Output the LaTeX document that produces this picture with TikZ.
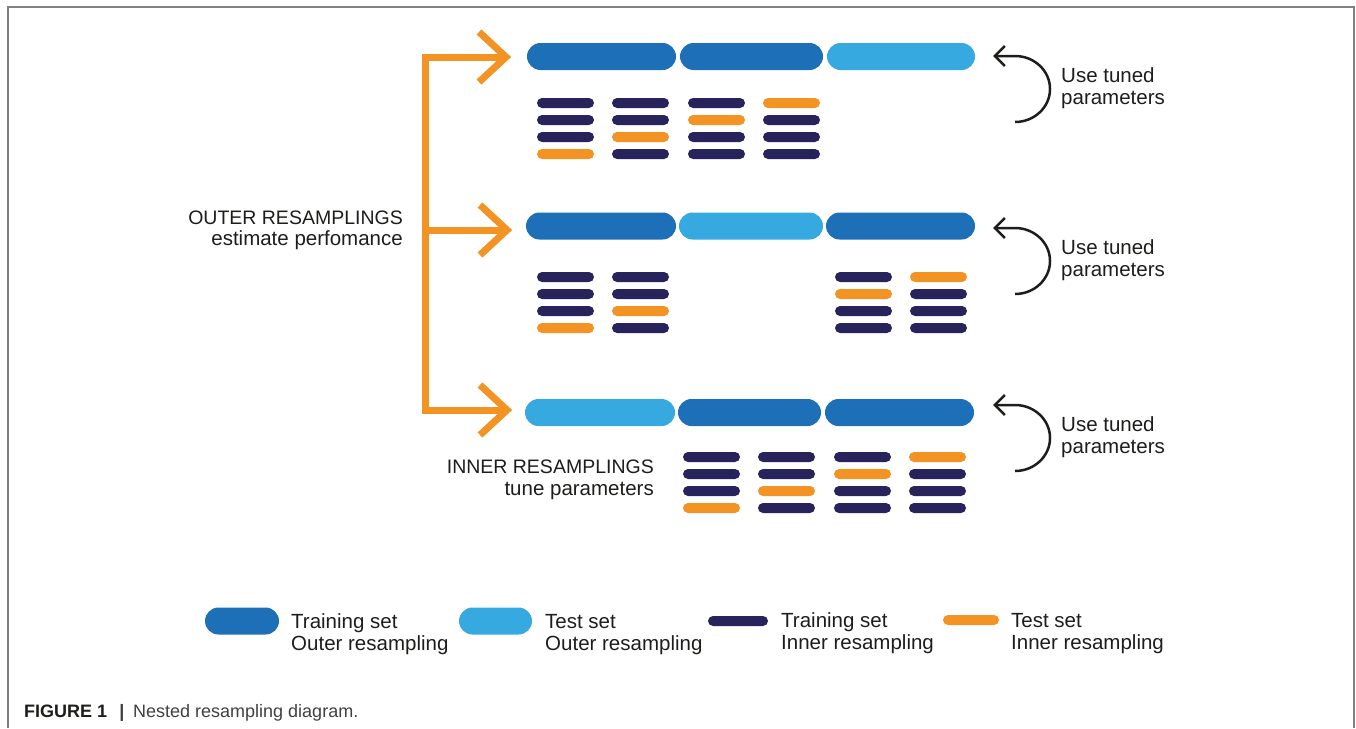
\documentclass[tikz,border=0pt]{standalone}
\usepackage{fontspec}
\setmainfont{Liberation Sans}
\usetikzlibrary{arrows.meta,calc}
\definecolor{dblue}{HTML}{1D70B7}
\definecolor{lblue}{HTML}{36A9E1}
\definecolor{navy}{HTML}{29235C}
\definecolor{orng}{HTML}{F39323}
\definecolor{textc}{HTML}{1D1D1B}
\definecolor{framec}{HTML}{808080}
\definecolor{capc}{HTML}{404040}
\begin{document}
\begin{tikzpicture}[x=1pt,y=-1pt,
  obar/.style={fill=#1, rounded corners=13.5pt, minimum height=27pt, inner sep=0pt, outer sep=0pt, anchor=west},
  ibar/.style={fill=#1, rounded corners=5pt, minimum height=10pt, minimum width=57pt, inner sep=0pt, outer sep=0pt, anchor=west},
  oline/.style={draw=orng, line width=7pt, line join=miter},
  curv/.style={draw=textc, line width=2.5pt, -{Straight Barb[length=10pt,width=20pt]}},
  capslbl/.style={inner sep=0pt, text=textc, font=\fontsize{19.5}{22}\selectfont},
  txtlbl/.style={inner sep=0pt, text=textc, font=\fontsize{20.5}{23}\selectfont},
  caplbl/.style={inner sep=0pt, font=\fontsize{18}{20}\selectfont}
]
\useasboundingbox (0,0) rectangle (1356,728);
% frame
\draw[framec, line width=1.5pt] (8,728) -- (8,7) -- (1354,7) -- (1354,728);

% outer bars
\node[obar=dblue, minimum width=149pt] (r1a) at (527,56.5) {};
\node[obar=dblue, minimum width=143pt] (r1b) at (680,56.5) {};
\node[obar=lblue, minimum width=148pt] (r1c) at (827,56.5) {};
\node[obar=dblue, minimum width=150pt] (r2a) at (526,226) {};
\node[obar=lblue, minimum width=144pt] (r2b) at (679,226) {};
\node[obar=dblue, minimum width=149pt] (r2c) at (826,226) {};
\node[obar=lblue, minimum width=150pt] (r3a) at (525,412.5) {};
\node[obar=dblue, minimum width=143pt] (r3b) at (678,412.5) {};
\node[obar=dblue, minimum width=149pt] (r3c) at (825,412.5) {};

% inner bars
\foreach \g/\xs/\ys in {1/{537,612,688,763}/{103,120,137,154},
                        2/{537,612,835,910}/{277,294,311,328},
                        3/{683,758,834,909}/{457,474,491,508}}{
  \foreach \x [count=\c] in \xs {
    \foreach \y [count=\r] in \ys {
      \pgfmathtruncatemacro\s{\c+\r}
      \ifnum\s=5 \def\bc{orng}\else\def\bc{navy}\fi
      \node[ibar=\bc] (g\g-\c-\r) at (\x,\y) {};
    }
  }
}

% orange bracket with arrows
\coordinate (ctop) at (425,57);
\coordinate (cmid) at (425,230);
\coordinate (cbot) at (425,410);
\coordinate (t1) at (506,57);
\coordinate (t2) at (507,230);
\coordinate (t3) at (507,410);
\draw[oline] (t1) -- (ctop) -- (cbot) -- (t3);
\draw[oline] (cmid) -- (t2);
\foreach \t in {t1,t2,t3}{
  \draw[oline] ($(\t)+(-27,-25)$) -- (\t) -- ($(\t)+(-27,25)$);
}

% curved arrows and labels
\foreach \d [count=\i] in {0,172,349}{
  \coordinate (cs\i) at (1015,122+\d);
  \coordinate (ce\i) at (993,56+\d);
  \draw[curv] (cs\i) arc[start angle=90, end angle=-90, x radius=35, y radius=33] -- (ce\i);
  \node[txtlbl, anchor=base west] (use\i) at (1061,82+\d) {Use tuned};
  \node[txtlbl, anchor=base west] (par\i) at (1061,104+\d) {parameters};
}

% side labels
\node[capslbl, anchor=base east] (outer1) at (403,224) {OUTER RESAMPLINGS};
\node[txtlbl, anchor=base east] (outer2) at (403,245) {estimate perfomance};
\node[capslbl, anchor=base east] (inner1) at (654,473) {INNER RESAMPLINGS};
\node[txtlbl, anchor=base east] (inner2) at (654,495) {tune parameters};

% legend
\node[obar=dblue, minimum width=74pt] (leg1) at (205,621) {};
\node[txtlbl, anchor=base west] (leg1a) at (291,628) {Training set};
\node[txtlbl, anchor=base west] (leg1b) at (291,650) {Outer resampling};
\node[obar=lblue, minimum width=73pt] (leg2) at (459,621) {};
\node[txtlbl, anchor=base west] (leg2a) at (545,628) {Test set};
\node[txtlbl, anchor=base west] (leg2b) at (545,650) {Outer resampling};
\node[ibar=navy, minimum width=60pt] (leg3) at (708,621) {};
\node[txtlbl, anchor=base west] (leg3a) at (781,627) {Training set};
\node[txtlbl, anchor=base west] (leg3b) at (781,649) {Inner resampling};
\node[ibar=orng, minimum width=56pt] (leg4) at (943,620) {};
\node[txtlbl, anchor=base west] (leg4a) at (1011,627) {Test set};
\node[txtlbl, anchor=base west] (leg4b) at (1011,649) {Inner resampling};

% caption
\node[caplbl, anchor=base west, text=textc, font=\fontsize{18}{20}\selectfont\bfseries] (cap1) at (24,717) {FIGURE 1};
\node[caplbl, anchor=base, text=capc, font=\fontsize{18}{20}\selectfont\bfseries] (cap2) at (122,717) {|};
\node[caplbl, anchor=base west, text=capc] (cap3) at (133,717) {Nested resampling diagram.};
\end{tikzpicture}
\end{document}
